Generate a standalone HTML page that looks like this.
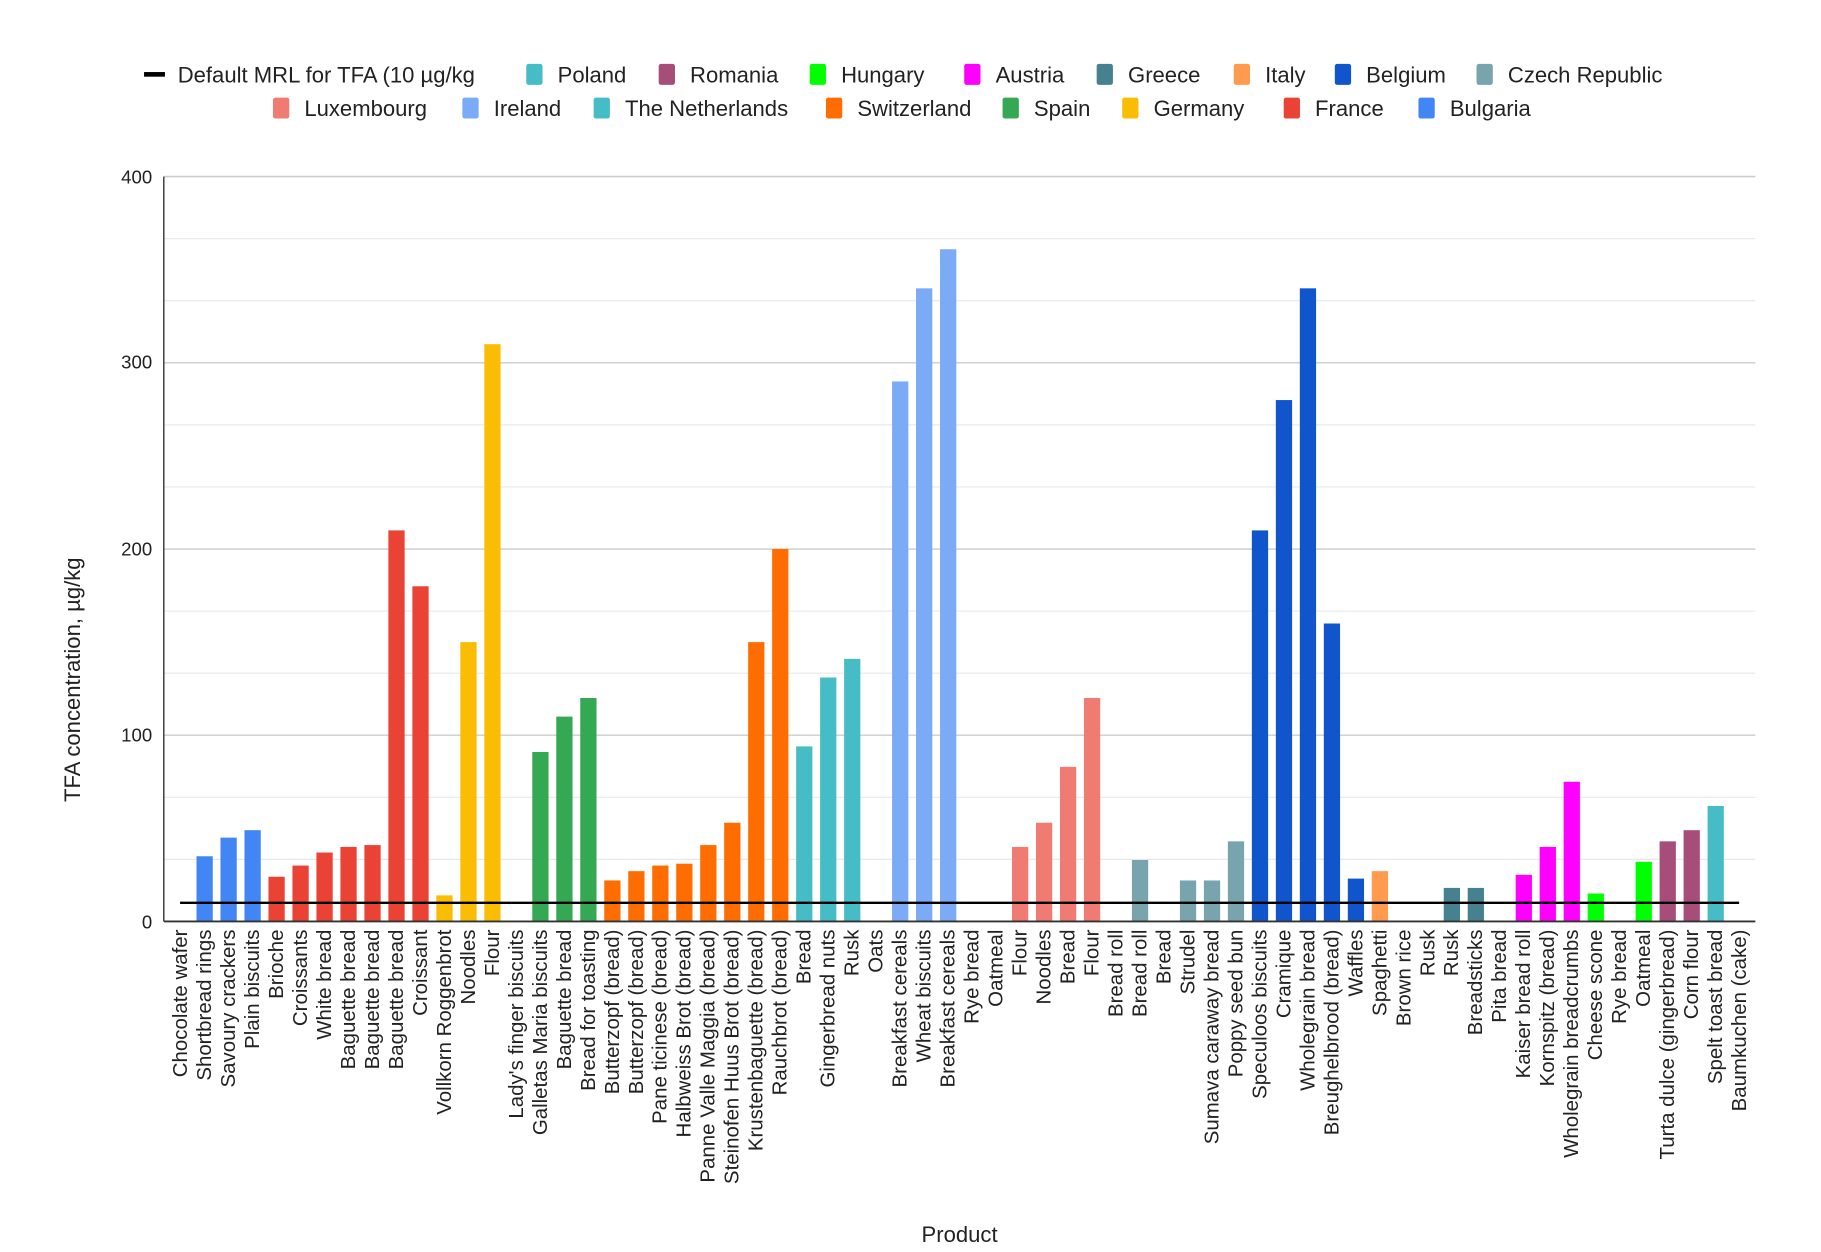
<!DOCTYPE html>
<html><head><meta charset="utf-8"><style>
html,body{margin:0;padding:0;background:#fff}
svg{display:block;font-family:"Liberation Sans",Arial,sans-serif}
</style></head><body>
<svg id="s" width="1821" height="1252" viewBox="0 0 1567.5 1077.5" preserveAspectRatio="none" xmlns="http://www.w3.org/2000/svg">
<rect width="1567.5" height="1077.5" fill="#fff"/>
<g id="grid"></g>
<g id="bars"></g>
<line x1="141" y1="152" x2="141" y2="793" stroke="#333" stroke-width="1.2"/>
<line x1="141" y1="793" x2="1511" y2="793" stroke="#333" stroke-width="1.6"/>
<line x1="155" y1="777" x2="1497" y2="777" stroke="#000" stroke-width="2"/>
<g font-size="16" text-anchor="end" fill="#222">
<text x="131" y="158">400</text><text x="131" y="317">300</text><text x="131" y="478">200</text><text x="131" y="638">100</text><text x="131" y="799">0</text>
</g>
<text transform="translate(69,585) rotate(-90)" font-size="19" text-anchor="middle" fill="#222">TFA concentration, µg/kg</text>
<text x="826" y="1069" font-size="19" text-anchor="middle" fill="#222">Product</text>
<g id="labels" font-size="17.6" fill="#222"></g>
<g id="legend" font-size="19" fill="#222"></g>
</svg>
<script>
var NS="http://www.w3.org/2000/svg";
function el(p,t,a,txt){var e=document.createElementNS(NS,t);for(var k in a)e.setAttribute(k,a[k]);if(txt!=null)e.textContent=txt;document.getElementById(p).appendChild(e);return e;}
var C={Bu:"#4285f4",Fr:"#ea4335",Ge:"#fbbc04",Sp:"#34a853",Sw:"#ff6d01",NL:"#46bdc6",Ir:"#7baaf7",Lu:"#f07b72",Cz:"#78a4ae",Be:"#1155cc",It:"#ff9b4f",Gr:"#45818e",Au:"#ff00ff",Hu:"#00ff00",Ro:"#a64d79",Po:"#46bdc6"};
var D=[["Chocolate wafer",0,"Bu"],["Shortbread rings",35,"Bu"],["Savoury crackers",45,"Bu"],["Plain biscuits",49,"Bu"],["Brioche",24,"Fr"],["Croissants",30,"Fr"],["White bread",37,"Fr"],["Baguette bread",40,"Fr"],["Baguette bread",41,"Fr"],["Baguette bread",210,"Fr"],["Croissant",180,"Fr"],["Vollkorn Roggenbrot",14,"Ge"],["Noodles",150,"Ge"],["Flour",310,"Ge"],["Lady's finger biscuits",0,"Sp"],["Galletas Maria biscuits",91,"Sp"],["Baguette bread",110,"Sp"],["Bread for toasting",120,"Sp"],["Butterzopf (bread)",22,"Sw"],["Butterzopf (bread)",27,"Sw"],["Pane ticinese (bread)",30,"Sw"],["Halbweiss Brot (bread)",31,"Sw"],["Panne Valle Maggia (bread)",41,"Sw"],["Steinofen Huus Brot (bread)",53,"Sw"],["Krustenbaguette (bread)",150,"Sw"],["Rauchbrot (bread)",200,"Sw"],["Bread",94,"NL"],["Gingerbread nuts",131,"NL"],["Rusk",141,"NL"],["Oats",0,"NL"],["Breakfast cereals",290,"Ir"],["Wheat biscuits",340,"Ir"],["Breakfast cereals",361,"Ir"],["Rye bread",0,"Ir"],["Oatmeal",0,"Ir"],["Flour",40,"Lu"],["Noodles",53,"Lu"],["Bread",83,"Lu"],["Flour",120,"Lu"],["Bread roll",0,"Cz"],["Bread roll",33,"Cz"],["Bread",0,"Cz"],["Strudel",22,"Cz"],["Sumava caraway bread",22,"Cz"],["Poppy seed bun",43,"Cz"],["Speculoos biscuits",210,"Be"],["Cramique",280,"Be"],["Wholegrain bread",340,"Be"],["Breughelbrood (bread)",160,"Be"],["Waffles",23,"Be"],["Spaghetti",27,"It"],["Brown rice",0,"It"],["Rusk",0,"Gr"],["Rusk",18,"Gr"],["Breadsticks",18,"Gr"],["Pita bread",0,"Au"],["Kaiser bread roll",25,"Au"],["Kornspitz (bread)",40,"Au"],["Wholegrain breadcrumbs",75,"Au"],["Cheese scone",15,"Hu"],["Rye bread",0,"Hu"],["Oatmeal",32,"Hu"],["Turta dulce (gingerbread)",43,"Ro"],["Corn flour",49,"Ro"],["Spelt toast bread",62,"Po"],["Baumkuchen (cake)",0,"Po"]];
var y0=793,k=641/400;
for(var i=1;i<12;i++){var y=152+i*641/12;var maj=(i%3==0);el("grid","line",{x1:141,x2:1511,y1:y,y2:y,stroke:maj?"#ccc":"#e8e8e8","stroke-width":maj?1.2:1});}
el("grid","line",{x1:141,x2:1511,y1:152,y2:152,stroke:"#ccc","stroke-width":1.4});
var sp=1342/65;
D.forEach(function(d,i){var x=155+i*sp;
 if(d[1]>0){var h=d[1]*k;el("bars","rect",{x:x-6.5,y:y0-h,width:14,height:h,fill:C[d[2]]});}
 el("labels","text",{transform:"translate("+(x+6)+",800) rotate(-90)","text-anchor":"end"},d[0]);
});
var L=[[124,64,"line",null,"Default MRL for TFA (10 µg/kg"],[453,64,"Po"],[567,64,"Ro"],[697,64,"Hu"],[830,64,"Au"],[944,64,"Gr"],[1062,64,"It"],[1149,64,"Be"],[1271,64,"Cz"],
[235,93,"Lu"],[398,93,"Ir"],[511,93,"NL"],[711,93,"Sw"],[863,93,"Sp"],[966,93,"Ge"],[1105,93,"Fr"],[1221,93,"Bu"]];
var N={Po:"Poland",Ro:"Romania",Hu:"Hungary",Au:"Austria",Gr:"Greece",It:"Italy",Be:"Belgium",Cz:"Czech Republic",Lu:"Luxembourg",Ir:"Ireland",NL:"The Netherlands",Sw:"Switzerland",Sp:"Spain",Ge:"Germany",Fr:"France",Bu:"Bulgaria"};
L.forEach(function(l){
 if(l[2]=="line"){el("legend","rect",{x:124,y:62,width:18,height:4,fill:"#000"});el("legend","text",{x:153,y:71},l[4]);}
 else{el("legend","rect",{x:l[0],y:l[1]-9,width:14,height:18,rx:2,fill:C[l[2]]});el("legend","text",{x:l[0]+27,y:l[1]+7},N[l[2]]);}
});
</script>
</body></html>
